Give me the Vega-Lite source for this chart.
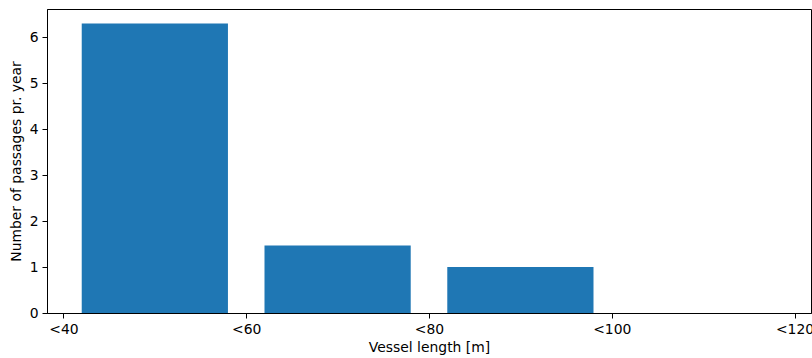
{
  "$schema": "https://vega.github.io/schema/vega-lite/v6.json",
  "width": 764,
  "height": 304,
  "autosize": {"type": "none"},
  "padding": {"left": 47, "top": 9, "right": 1, "bottom": 45},
  "background": "white",
  "config": {
    "view": {"stroke": "#000000", "strokeWidth": 1},
    "font": "DejaVu Sans",
    "axis": {
      "grid": false,
      "domainColor": "#000000",
      "tickColor": "#000000",
      "tickSize": 5,
      "tickWidth": 1,
      "labelFont": "DejaVu Sans",
      "labelFontSize": 13.9,
      "labelColor": "#000000",
      "titleFont": "DejaVu Sans",
      "titleFontSize": 13.9,
      "titleFontWeight": "normal",
      "titleColor": "#000000",
      "labelPadding": 4
    }
  },
  "data": {
    "values": [
      {"x0": 42, "x1": 58, "value": 6.3},
      {"x0": 62, "x1": 78, "value": 1.47},
      {"x0": 82, "x1": 98, "value": 1.0},
      {"x0": 102, "x1": 118, "value": 0}
    ]
  },
  "mark": {"type": "bar", "color": "#1f77b4"},
  "encoding": {
    "x": {
      "field": "x0",
      "type": "quantitative",
      "scale": {"domain": [38.2, 121.8], "nice": false, "zero": false},
      "axis": {
        "title": "Vessel length [m]",
        "values": [40, 60, 80, 100, 120],
        "labelExpr": "'<' + datum.value",
        "titlePadding": 5
      }
    },
    "x2": {"field": "x1"},
    "y": {
      "field": "value",
      "type": "quantitative",
      "scale": {"domain": [0, 6.615], "nice": false, "padding": 0},
      "axis": {
        "title": "Number of passages pr. year",
        "values": [0, 1, 2, 3, 4, 5, 6],
        "titlePadding": 6
      }
    },
    "y2": {"datum": 0}
  }
}
